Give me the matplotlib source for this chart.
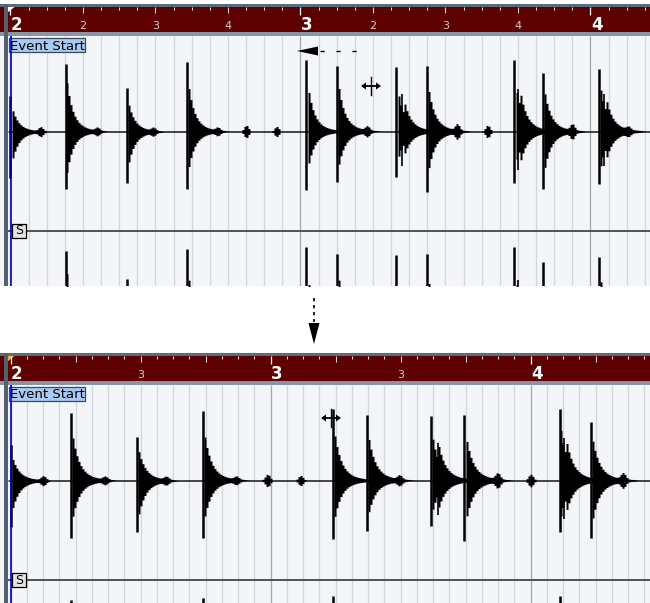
import numpy as np
import matplotlib.pyplot as plt
from matplotlib.patches import Rectangle, Polygon

# audio hits, position in beats of the audio (as laid out on the lower grid)
hit_beats = [0.0, 0.93, 1.95, 2.96, 4.96, 5.48, 6.47, 6.98, 8.45, 8.93, 9.88]
hit_up = [36, 68, 44, 70, 72, 66, 65, 66, 72, 59, 63]
hit_down = [46, 57, 51, 57, 58, 50, 45, 60, 51, 57, 52]
# second spikes right after some hits
echo_beats = [6.57, 8.52, 9.96]
echo_up = [38, 43, 38]
# small bumps between the hits
blip_beats = [0.49, 1.44, 2.38, 3.46, 3.94, 4.45, 5.97, 7.48, 7.99, 9.41, 10.35]
blip_amp = [4, 3, 3, 3, 6, 5, 4, 6, 6, 6, 3]

# ruler labels
bar_labels = ["2", "3", "4"]
bar_beats = [0, 4, 8]
top_beat_labels = ["2", "3", "4", "2", "3", "4"]
top_beat_pos = [1, 2, 3, 5, 6, 7]
bot_beat_labels = ["3", "3"]
bot_beat_pos = [2, 6]

W, H = 650, 603
fig = plt.figure(figsize=(W / 100, H / 100), dpi=100)
fig.patch.set_facecolor("white")

RED = "#5c0000"
SLATE = "#5d6b7a"
BAND = "#8796a6"
BG = "#f3f5f8"
GRID = "#d2d6dd"
BARGRID = "#a3a7ae"


def px_axes(x0, y0, x1, y1, z=1):
    return fig.add_axes([x0 / W, 1 - y1 / H, (x1 - x0) / W, (y1 - y0) / H], zorder=z)


def envelope(t, beats, amps, tau1, tau2, f1, f2):
    env = np.zeros_like(t)
    for b, a in zip(beats, amps):
        dt = t - b
        m = dt >= 0
        env[m] += a * (f1 * np.exp(-dt[m] / tau1) + f2 * np.exp(-dt[m] / tau2))
    return env


def bumps(t, beats, amps, width):
    env = np.zeros_like(t)
    for b, a in zip(beats, amps):
        env += a * np.exp(-((t - b) / width) ** 2)
    return env


def draw_panel(top, bottom, ruler_scale, audio_scale, beat_labels, beat_pos, marker_col):
    origin = 10.5
    ax = px_axes(0, top, W, bottom)
    ax.set_xlim(-origin / audio_scale, (W - origin) / audio_scale)
    ax.set_ylim(bottom, top)
    ax.axis("off")
    k = ruler_scale / audio_scale  # ruler beat -> audio beat

    y_red0, y_red1 = top + 3, top + 28
    wave_top = y_red1 + 4
    ax.axhspan(top, y_red0, color=SLATE, lw=0)
    ax.axhspan(y_red0, y_red1, color=RED, lw=0)
    ax.axhspan(y_red1, wave_top, color=BAND, lw=0)
    ax.axhspan(wave_top, bottom, color=BG, lw=0)

    # grid + ruler ticks every 16th
    n16 = np.arange(0, 48)
    gx = n16 / 4 * k
    is_bar = n16 % 16 == 0
    is_beat = (n16 % 4 == 0) & ~is_bar
    ax.vlines(gx[~is_bar], wave_top, bottom, color=GRID, lw=0.9, zorder=1)
    ax.vlines(gx[is_bar], wave_top, bottom, color=BARGRID, lw=0.9, zorder=1)
    small = ~is_bar & ~is_beat
    ax.vlines(gx[small], y_red0, y_red0 + 3, color="#e0d2d2", lw=0.8)
    ax.vlines(gx[is_beat], y_red0, y_red0 + 6, color="#e0d2d2", lw=0.8)
    ax.vlines(gx[is_bar], y_red0, y_red0 + 8, color="white", lw=0.9)

    for lab, b in zip(bar_labels, bar_beats):
        ax.text(b * k + 0.3 / audio_scale, y_red1 - 2, lab, color="white", fontsize=12,
                fontweight="bold", ha="left", va="baseline")
    for lab, b in zip(beat_labels, beat_pos):
        ax.text(b * k, y_red1 - 3, lab, color="#d6c8c8", fontsize=8, ha="center", va="baseline")

    # ruler start flag
    ax.add_patch(Polygon([(-3.5 / audio_scale, y_red0), (4 / audio_scale, y_red0),
                          (-3.5 / audio_scale, y_red0 + 6)], color=marker_col, lw=0))

    # waveform, two channels (sampled in 2 px blocks)
    t = (np.arange(8, W + 2, 2) - origin) / audio_scale
    for c, f in [(wave_top + 95.5, 1.0), (wave_top + 293.5, 1.15)]:
        up = envelope(t, hit_beats, hit_up, 0.1, 0.3, 0.62, 0.1)
        up += envelope(t, echo_beats, echo_up, 0.1, 0.25, 0.35, 0.08)
        up += bumps(t, blip_beats, blip_amp, 0.05)
        dn = envelope(t, hit_beats, hit_down, 0.1, 0.3, 0.62, 0.1)
        dn += envelope(t, echo_beats, echo_up, 0.1, 0.25, 0.3, 0.08)
        dn += bumps(t, blip_beats, blip_amp, 0.05)
        up = np.maximum(up, 0.7) * f
        dn = np.maximum(dn, 0.7) * f
        ax.fill_between(t, c - up, c + dn, step="post", color="black", lw=0, zorder=3)
        ax.vlines(hit_beats, c - np.array(hit_up) * f, c + np.array(hit_down) * f,
                  color="black", lw=1.8, zorder=3)
        ax.vlines(echo_beats, c - np.array(echo_up) * f, c + np.array(echo_up) * 0.9 * f,
                  color="black", lw=1.2, zorder=3)
    sep = wave_top + 194.5
    ax.hlines(sep, -2.5 / audio_scale, W / audio_scale, color="#4e535b", lw=1.4, zorder=4)
    return wave_top, sep


tw, tsep = draw_panel(4, 286, 72.5, 59.6, top_beat_labels, top_beat_pos, "white")
bw, bsep = draw_panel(353, 603, 65.0, 65.0, bot_beat_labels, bot_beat_pos, "#f2ae45")

# overlay in pixel coordinates for frames, labels and arrows
ov = px_axes(0, 0, W, H, z=5)
ov.set_xlim(0, W)
ov.set_ylim(H, 0)
ov.axis("off")
ov.patch.set_alpha(0)

for top, bottom, wt, sep in [(4, 286, tw, tsep), (353, 603, bw, bsep)]:
    ov.add_patch(Rectangle((4, top), 4, bottom - top, color="#56606c", lw=0))
    ov.add_patch(Rectangle((8.5, wt + 2), 76.5, 14, facecolor="#a9c9f2", edgecolor="#3c4a5a", lw=0.9))
    ov.text(9.5, wt + 13.5, "Event Start", fontsize=9.5, color="black", va="baseline", ha="left")
    ov.vlines(10.5, wt, bottom, color="#0000d0", lw=1.2)
    ov.add_patch(Rectangle((12, sep - 7), 14, 14, facecolor="#e4e4e4", edgecolor="black", lw=0.9))
    ov.text(19, sep + 0.5, "S", fontsize=9, color="black", ha="center", va="center")


def cursor(x, y):
    ov.plot([x - 6, x + 6], [y, y], color="black", lw=1.3)
    ov.add_patch(Polygon([(x - 10, y), (x - 5, y - 3.5), (x - 5, y + 3.5)], color="black", lw=0))
    ov.add_patch(Polygon([(x + 10, y), (x + 5, y - 3.5), (x + 5, y + 3.5)], color="black", lw=0))
    ov.plot([x, x], [y - 9, y + 9], color="black", lw=1.0)


cursor(371, 86)
cursor(331, 418)

# dashed arrow pointing left in the upper view
ov.plot([320, 367], [51, 51], color="black", lw=1.0, dashes=(3, 8.5))
ov.add_patch(Polygon([(297, 51), (318, 46.5), (318, 55.5)], color="black", lw=0))

# dotted arrow pointing down between the views
ov.plot([314, 314], [298, 322], color="black", lw=1.2, dashes=(2, 2.2))
ov.add_patch(Polygon([(308.5, 323), (319.5, 323), (314, 344)], color="black", lw=0))

fig.savefig("out.png", dpi=100, facecolor="white")
